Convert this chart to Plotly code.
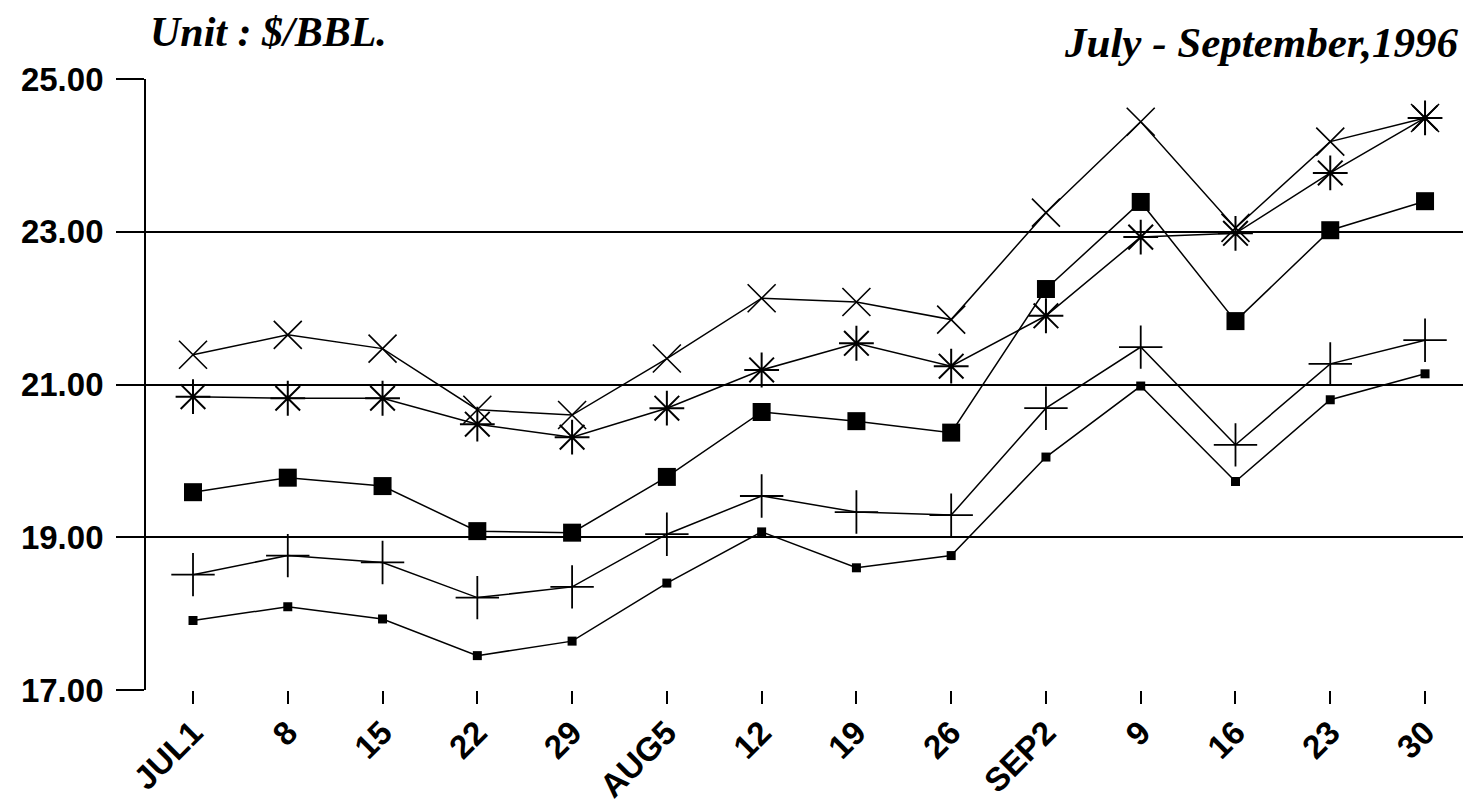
import plotly.graph_objects as go

weeks = ["JUL1", "8", "15", "22", "29", "AUG5", "12", "19", "26", "SEP2", "9", "16", "23", "30"]
y_ticks = [17, 19, 21, 23, 25]

s_x = [21.39, 21.65, 21.47, 20.67, 20.60, 21.34, 22.13, 22.08, 21.85, 23.25, 24.44, 23.05, 24.18, 24.49]
s_ast = [20.84, 20.82, 20.82, 20.48, 20.31, 20.69, 21.19, 21.54, 21.24, 21.90, 22.93, 22.98, 23.77, 24.49]
s_bigsq = [19.59, 19.78, 19.67, 19.08, 19.06, 19.79, 20.64, 20.52, 20.37, 22.25, 23.39, 21.83, 23.02, 23.40]
s_plus = [18.51, 18.76, 18.67, 18.21, 18.35, 19.04, 19.54, 19.33, 19.29, 20.69, 21.49, 20.21, 21.27, 21.58]
s_smsq = [17.91, 18.09, 17.93, 17.45, 17.64, 18.40, 19.07, 18.60, 18.76, 20.05, 20.98, 19.73, 20.80, 21.14]

xs = list(range(len(weeks)))

fig = go.Figure()

def add(vals, symbol, size, lw=1.6):
    fig.add_trace(go.Scatter(
        x=xs, y=vals, mode="lines+markers",
        line=dict(color="black", width=1.5),
        marker=dict(symbol=symbol, size=size, color="black",
                    line=dict(color="black", width=lw)),
        showlegend=False, hoverinfo="skip"))

add(s_x, "x-thin", 28)
add(s_ast, "asterisk", 29, 2)
add(s_bigsq, "square", 18, 0)
add(s_plus, "cross-thin", 31, 1.8)
add(s_smsq, "square", 9, 0)

fig.update_xaxes(
    range=[-0.496, 13.485], tickvals=xs, ticktext=weeks, tickangle=-45,
    showgrid=False, zeroline=False, showline=False,
    ticks="outside", ticklen=13, tickwidth=1.5, tickcolor="black",
    ticklabelstandoff=-4,
    tickfont=dict(family="Liberation Sans, Arial", size=33, color="black", weight="bold"),
)
fig.update_yaxes(
    range=[17, 25], tickvals=y_ticks, tickformat=".2f",
    showgrid=True, gridcolor="black", gridwidth=1.8,
    zeroline=False, showline=True, linecolor="black", linewidth=1.8,
    ticks="outside", ticklen=28, tickwidth=1.8, tickcolor="black",
    ticklabelstandoff=6,
    tickfont=dict(family="Liberation Sans, Arial", size=33, color="black", weight="bold"),
)

fig.add_annotation(text="<b><i>Unit : $/BBL.</i></b>", xref="paper", yref="paper",
                   x=0.0, y=1.0, xanchor="left", yanchor="middle", yshift=47, xshift=2,
                   showarrow=False,
                   font=dict(family="Liberation Serif, Times New Roman", size=42, color="black"))
fig.add_annotation(text="<b><i>July - September,1996</i></b>", xref="paper", yref="paper",
                   x=1.0, y=1.0, xanchor="right", yanchor="middle", yshift=37, xshift=-11,
                   showarrow=False,
                   font=dict(family="Liberation Serif, Times New Roman", size=43, color="black"))

fig.update_layout(
    width=1463, height=799,
    margin=dict(l=138, r=0, t=71, b=117),
    plot_bgcolor="white", paper_bgcolor="white",
)

fig.write_html("out.html")
